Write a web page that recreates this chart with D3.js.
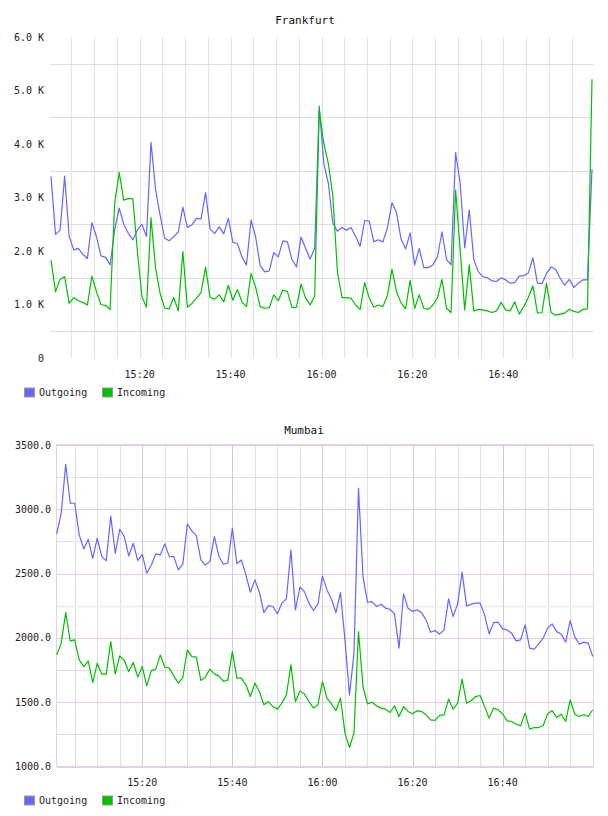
<!DOCTYPE html>
<html>
<head>
<meta charset="utf-8">
<script src="https://cdn.jsdelivr.net/npm/d3@7"></script>
<style>
	body { margin: 0; background: #fff; }
	svg text { font-family: "DejaVu Sans Mono", monospace; fill: #222; }
</style>
</head>
<body>
<div class="container"></div>
<script>
// one sample per minute, 120 samples
var seriesNames = ['Outgoing', 'Incoming'];
var seriesColors = ['#6666ff', '#00c000'];

var fraOutgoing = [3390,2310,2390,3400,2270,2020,2050,1940,1860,2530,2270,1910,1880,1740,2390,2800,2500,2330,2210,2390,
	2500,2270,4030,3140,2670,2240,2190,2270,2360,2820,2440,2490,2610,2600,3090,2410,2330,2450,2320,2610,
	2160,2140,1890,1740,2580,2270,1730,1610,1630,1970,1890,2190,2170,1840,1700,2260,2050,1850,2050,4710,
	3640,3270,2520,2370,2440,2390,2440,2270,2090,2570,2560,2170,2210,2170,2430,2900,2720,2220,2040,2340,
	1740,2050,1690,1690,1740,1890,2360,1840,1740,3840,3270,2060,2770,1840,1610,1520,1500,1440,1430,1500,
	1460,1400,1410,1530,1540,1590,1870,1400,1390,1580,1700,1660,1490,1360,1470,1320,1400,1460,1460,3530];
var fraIncoming = [1830,1240,1470,1520,1020,1130,1070,1040,990,1530,1240,1000,980,910,2890,3470,2950,2980,2980,2000,
	1150,950,2620,1680,1210,930,920,1130,880,1990,950,1020,1120,1220,1700,1130,1100,1180,1050,1360,
	1080,1280,1050,960,1580,1330,960,930,940,1180,1070,1270,1240,940,950,1380,1120,990,1160,4640,
	4010,3640,3020,1610,1130,1130,1120,990,910,1410,1120,950,990,960,1170,1660,1240,1030,920,1450,
	930,1180,930,910,990,1120,1470,930,850,3140,2020,900,1740,880,910,900,880,850,880,1040,
	900,880,1050,820,960,1130,1350,840,850,1400,850,800,820,840,910,870,850,910,920,5210];

var mumOutgoing = [2808,2969,3350,3047,3047,2801,2692,2767,2619,2775,2632,2599,2948,2658,2845,2788,2637,2736,2601,2650,
	2503,2567,2653,2645,2731,2632,2632,2529,2573,2886,2832,2795,2606,2567,2593,2788,2637,2573,2581,2853,
	2578,2606,2490,2355,2451,2355,2197,2251,2244,2187,2270,2303,2684,2218,2394,2360,2270,2213,2264,2482,
	2373,2301,2197,2352,1985,1557,1881,3163,2477,2277,2282,2244,2262,2231,2223,2187,1920,2342,2230,2205,
	2218,2197,2140,2044,2057,2029,2062,2303,2166,2262,2511,2249,2262,2270,2270,2179,2031,2119,2122,2070,
	2062,2037,1977,1985,2101,1920,1913,1951,1998,2076,2109,2049,2031,1967,2135,2010,1951,1967,1959,1855];
var mumIncoming = [1868,1959,2197,1977,1985,1829,1777,1821,1653,1803,1718,1718,1972,1718,1860,1824,1739,1809,1695,1777,
	1627,1746,1757,1868,1772,1765,1705,1648,1692,1907,1855,1850,1669,1695,1757,1720,1705,1661,1674,1894,
	1687,1687,1635,1544,1648,1583,1480,1505,1466,1446,1493,1557,1790,1505,1588,1563,1505,1454,1480,1661,
	1532,1487,1435,1532,1260,1148,1260,2049,1622,1487,1500,1472,1454,1446,1420,1472,1389,1466,1428,1410,
	1433,1428,1402,1363,1358,1397,1402,1524,1446,1493,1679,1493,1511,1544,1552,1466,1376,1454,1441,1410,
	1355,1350,1330,1316,1415,1291,1303,1303,1319,1410,1435,1381,1407,1350,1518,1407,1389,1402,1389,1441];

var fraStart = new Date(2013, 0, 1, 15, 0, 30);
var mumStart = new Date(2013, 0, 1, 15, 1, 0);
var fraTicksY = [0, 1000, 2000, 3000, 4000, 5000, 6000];
var fraGridY = [500, 1500, 2500, 3500, 4500, 5500];
var mumTicksY = [1000, 1500, 2000, 2500, 3000, 3500];
var mumMinorY = [1250, 1750, 2250, 2750, 3250];

var svg = d3.select('.container').append('svg').attr('width', 608).attr('height', 816);

function times(start, n) {
	return d3.range(n).map(function(i){ return d3.timeMinute.offset(start, i); });
}

function drawLegend(g, y) {
	var item = g.selectAll('.legend').data(seriesNames).enter().append('g')
		.attr('transform', function(d, i){ return 'translate(' + (24 + i * 78) + ',' + y + ')'; });
	item.append('rect').attr('x', 0.5).attr('y', -4.5).attr('width', 10).attr('height', 9)
		.attr('fill', function(d, i){ return seriesColors[i]; })
		.attr('stroke', '#999').attr('stroke-width', 1);
	item.append('text').attr('x', 15).attr('y', 0).attr('dy', '0.35em')
		.style('font-size', '10px').text(function(d){ return d; });
}

function drawLines(g, x, y, t, series) {
	var line = d3.line()
		.x(function(d, i){ return x(t[i]); })
		.y(function(d){ return y(d); });
	g.selectAll('.series').data(series).enter().append('path')
		.attr('d', line)
		.attr('fill', 'none')
		.attr('stroke', function(d, i){ return seriesColors[i]; })
		.attr('stroke-width', 1.2)
		.attr('stroke-linejoin', 'round');
}

// ---------- Frankfurt ----------
var fT = times(fraStart, fraOutgoing.length);
var fx = d3.scaleTime().domain([fT[0], fT[fT.length - 1]]).range([51, 592]);
var fy = d3.scaleLinear().domain([0, 6000]).range([358, 37]);
var fra = svg.append('g');

fra.selectAll('.vgrid').data(fx.ticks(d3.timeMinute.every(5))).enter().append('line')
	.attr('x1', function(d){ return Math.round(fx(d)) + 0.5; })
	.attr('x2', function(d){ return Math.round(fx(d)) + 0.5; })
	.attr('y1', 37).attr('y2', 358)
	.attr('stroke', '#e3e3e3');
fra.selectAll('.hgrid').data(fraGridY).enter().append('line')
	.attr('x1', 50).attr('x2', 594)
	.attr('y1', function(d){ return Math.round(fy(d)) + 0.5; })
	.attr('y2', function(d){ return Math.round(fy(d)) + 0.5; })
	.attr('stroke', '#dddddd');

fra.selectAll('.ylab').data(fraTicksY).enter().append('text')
	.attr('x', 44).attr('y', function(d){ return fy(d); }).attr('dy', '0.35em')
	.attr('text-anchor', 'end').style('font-size', '10px')
	.text(function(d){ return d === 0 ? '0' : (d / 1000).toFixed(1) + ' K'; });
fra.selectAll('.xlab').data(fx.ticks(d3.timeMinute.every(20))).enter().append('text')
	.attr('x', function(d){ return fx(d); }).attr('y', 374).attr('dy', '0.35em')
	.attr('text-anchor', 'middle').style('font-size', '10px')
	.text(d3.timeFormat('%H:%M'));
fra.append('text').attr('x', 305).attr('y', 20).attr('dy', '0.35em')
	.attr('text-anchor', 'middle').style('font-size', '11px').style('fill', '#111')
	.text('Frankfurt');

drawLines(fra, fx, fy, fT, [fraOutgoing, fraIncoming]);
drawLegend(fra, 392.5);

// ---------- Mumbai ----------
var mT = times(mumStart, mumOutgoing.length);
var mx = d3.scaleTime().domain([mT[0], mT[mT.length - 1]]).range([56.7, 592.7]);
var my = d3.scaleLinear().domain([1000, 3500]).range([766.5, 445]);
var mum = svg.append('g');

var minorX = mx.ticks(d3.timeMinute.every(5)).filter(function(d){ return d.getMinutes() % 20 !== 0; });
var majorX = mx.ticks(d3.timeMinute.every(20));

mum.selectAll('.vminor').data(minorX).enter().append('line')
	.attr('x1', function(d){ return Math.round(mx(d)) + 0.5; })
	.attr('x2', function(d){ return Math.round(mx(d)) + 0.5; })
	.attr('y1', 445).attr('y2', 766.5)
	.attr('stroke', '#e2dee2');
mum.selectAll('.hminor').data(mumMinorY).enter().append('line')
	.attr('x1', 57).attr('x2', 593)
	.attr('y1', function(d){ return Math.round(my(d)) + 0.5; })
	.attr('y2', function(d){ return Math.round(my(d)) + 0.5; })
	.attr('stroke', function(d){ return d === 2250 ? '#efefef' : '#e2dee2'; })
	.attr('stroke-width', function(d){ return d === 2250 ? 2 : 1; });
mum.selectAll('.vmajor').data(majorX).enter().append('line')
	.attr('x1', function(d){ return Math.round(mx(d)) + 0.5; })
	.attr('x2', function(d){ return Math.round(mx(d)) + 0.5; })
	.attr('y1', 445).attr('y2', 766.5)
	.attr('stroke', '#dcc4dc');
mum.selectAll('.hmajor').data(mumTicksY).enter().append('line')
	.attr('x1', 57).attr('x2', 593)
	.attr('y1', function(d){ return Math.round(my(d)) + 0.5; })
	.attr('y2', function(d){ return Math.round(my(d)) + 0.5; })
	.attr('stroke', '#e4cce4');
mum.append('rect').attr('x', 56.5).attr('y', 444.5).attr('width', 537).attr('height', 322)
	.attr('fill', 'none').attr('stroke', '#e6d2e6');

mum.selectAll('.ylab').data(mumTicksY).enter().append('text')
	.attr('x', 51).attr('y', function(d){ return my(d); }).attr('dy', '0.35em')
	.attr('text-anchor', 'end').style('font-size', '10px')
	.text(d3.format('.1f'));
mum.selectAll('.xlab').data(majorX.filter(function(d){ return d < mT[mT.length - 1]; })).enter().append('text')
	.attr('x', function(d){ return mx(d); }).attr('y', 782).attr('dy', '0.35em')
	.attr('text-anchor', 'middle').style('font-size', '10px')
	.text(d3.timeFormat('%H:%M'));
mum.append('text').attr('x', 304).attr('y', 430).attr('dy', '0.35em')
	.attr('text-anchor', 'middle').style('font-size', '11px').style('fill', '#111')
	.text('Mumbai');

drawLines(mum, mx, my, mT, [mumOutgoing, mumIncoming]);
drawLegend(mum, 800.5);
</script>
</body>
</html>
